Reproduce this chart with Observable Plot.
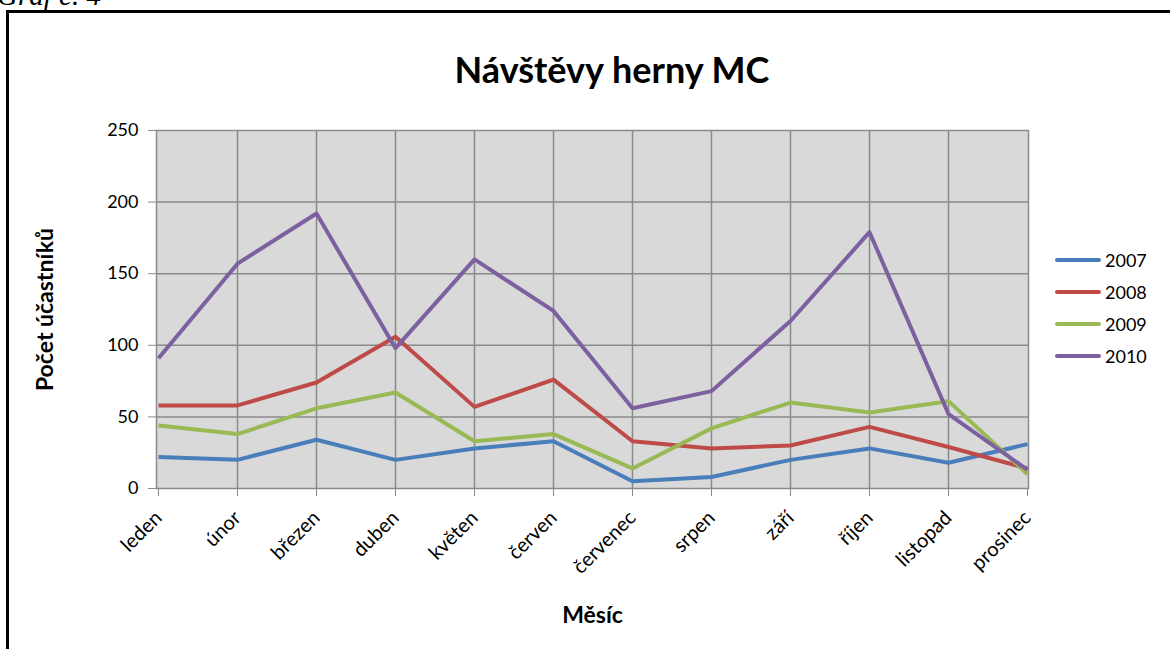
<!DOCTYPE html>
<html>
<head>
<meta charset="utf-8">
<script src="https://cdn.jsdelivr.net/npm/d3@7"></script>
<script src="https://cdn.jsdelivr.net/npm/@observablehq/plot@0.6"></script>
<style>
  html, body { margin: 0; padding: 0; background: #fff; }
  #wrap { position: relative; width: 1170px; height: 649px; overflow: hidden; font-family: Lato, "Open Sans", sans-serif; }
  #frame { position: absolute; left: 6px; top: 10px; width: 1300px; height: 800px; border-left: 3px solid #000; border-top: 3px solid #000; }
  #graf { position: absolute; left: -3px; top: -21px; font: italic 29px "Liberation Serif", serif; color: #000; }
  #title { position: absolute; left: 612px; top: 51px; transform: translateX(-50%); font: bold 36px Lato, sans-serif; line-height: 1; white-space: nowrap; }
  #chart { position: absolute; left: 0; top: 0; }
  #legend { position: absolute; left: 1054px; top: 244px; font: 18px Lato, sans-serif; }
  #legend .row { display: flex; align-items: center; height: 32px; }
  #legend svg { margin-right: 3px; }
  g[aria-label="y-axis label"] text, g[aria-label="x-axis label"] text { font-weight: bold; font-size: 23px; }
  g[aria-label="x-axis tick label"] text { font-size: 20px; }
</style>
</head>
<body>
<div id="wrap">
  <div id="frame"></div>
  <div id="graf">Graf č. 4</div>
  <div id="chart"></div>
  <div id="title">Návštěvy herny MC</div>
  <div id="legend"></div>
</div>
<script>
const months = ["leden","únor","březen","duben","květen","červen","červenec","srpen","září","říjen","listopad","prosinec"];
const years = ["2007","2008","2009","2010"];
const v2007 = [22, 20, 34, 20, 28, 33, 5, 8, 20, 28, 18, 31];
const v2008 = [58, 58, 74, 106, 57, 76, 33, 28, 30, 43, 29, 14];
const v2009 = [44, 38, 56, 67, 33, 38, 14, 42, 60, 53, 61, 10];
const v2010 = [91, 157, 192, 98, 160, 124, 56, 68, 117, 179, 52, 13];
const yTicks = [0, 50, 100, 150, 200, 250];
const colors = ["#4a7ebb", "#be4b48", "#98b954", "#7d60a0"];

const series = [v2007, v2008, v2009, v2010];
const data = years.flatMap((y, i) => series[i].map((v, j) => ({month: months[j], year: y, value: v})));

const chart = Plot.plot({
  width: 1170,
  height: 649,
  marginLeft: 156,
  marginRight: 142,
  marginTop: 130,
  marginBottom: 161,
  style: {background: "transparent", fontFamily: "Lato, sans-serif", fontSize: "18px", color: "#000"},
  x: {type: "point", domain: months, padding: 0},
  y: {domain: [0, 250]},
  color: {domain: years, range: colors},
  marks: [
    Plot.frame({fill: "#d9d9d9", stroke: null}),
    Plot.gridX(months.slice(1, -1), {stroke: "#8a8a8a", strokeOpacity: 1, strokeWidth: 1.5}),
    Plot.gridY(yTicks.slice(1, -1), {stroke: "#8a8a8a", strokeOpacity: 1, strokeWidth: 1.5}),
    Plot.frame({stroke: "#8a8a8a", strokeWidth: 1.5}),
    Plot.axisY(yTicks, {tickSize: 8, tickPadding: 10, stroke: "#8a8a8a", fontSize: 18, label: "Počet účastníků", labelAnchor: "center", labelArrow: "none", labelOffset: 120}),
    Plot.axisX({tickSize: 8, tickPadding: 18, tickRotate: -45, stroke: "#8a8a8a", fontSize: 20, label: "Měsíc", labelAnchor: "center", labelArrow: "none", labelOffset: 134}),
    Plot.line(data, {x: "month", y: "value", stroke: "year", strokeWidth: 4, strokeLinejoin: "round", strokeLinecap: "butt"})
  ]
});
document.getElementById("chart").appendChild(chart);

const legend = d3.select("#legend");
years.forEach((y, i) => {
  const row = legend.append("div").attr("class", "row");
  const s = row.append("svg").attr("width", 48).attr("height", 12);
  s.append("line").attr("x1", 3).attr("x2", 45).attr("y1", 6).attr("y2", 6)
    .attr("stroke", colors[i]).attr("stroke-width", 4).attr("stroke-linecap", "round");
  row.append("span").text(y);
});
</script>
</body>
</html>
